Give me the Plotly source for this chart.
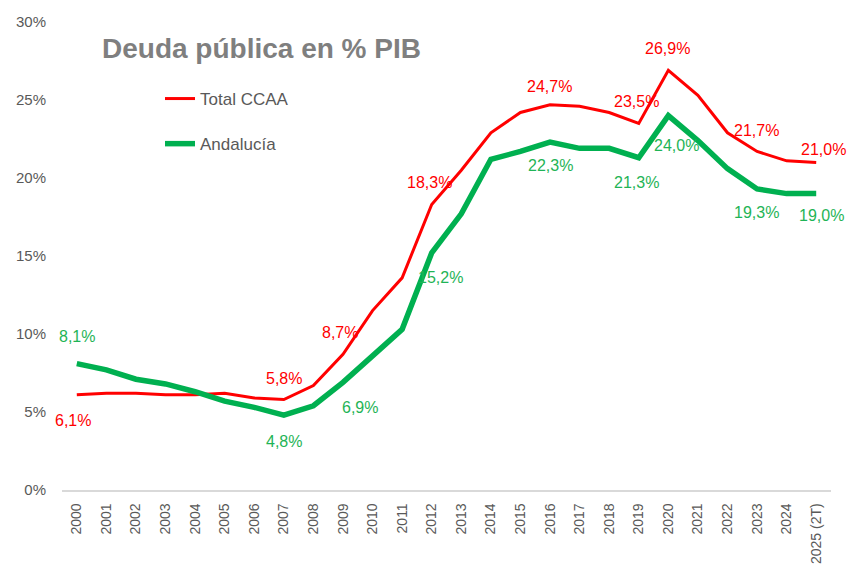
import plotly.graph_objects as go

years = ["2000", "2001", "2002", "2003", "2004", "2005", "2006", "2007", "2008", "2009",
         "2010", "2011", "2012", "2013", "2014", "2015", "2016", "2017", "2018", "2019",
         "2020", "2021", "2022", "2023", "2024", "2025 (2T)"]
total_ccaa = [6.1, 6.2, 6.2, 6.1, 6.1, 6.2, 5.9, 5.8, 6.7, 8.7,
              11.5, 13.6, 18.3, 20.5, 22.9, 24.2, 24.7, 24.6, 24.2, 23.5,
              26.9, 25.3, 22.9, 21.7, 21.1, 21.0]
andalucia = [8.1, 7.7, 7.1, 6.8, 6.3, 5.7, 5.3, 4.8, 5.4, 6.9,
             8.6, 10.3, 15.2, 17.7, 21.2, 21.7, 22.3, 21.9, 21.9, 21.3,
             24.0, 22.4, 20.6, 19.3, 19.0, 19.0]
y_ticks = [0, 5, 10, 15, 20, 25, 30]
y_tick_labels = ["0%", "5%", "10%", "15%", "20%", "25%", "30%"]

# indices of labelled points with (dx, dy) pixel offsets
red_labels = {0: (-4, 26), 7: (0, -21), 9: (-3, -22), 12: (-2, -22), 16: (-1, -18),
              19: (-2, -22), 20: (-1, -22), 23: (-1, -21), 25: (7, -13)}
green_labels = {0: (0, -27), 7: (0, 26), 9: (17, 25), 12: (9, 25), 16: (0, 23),
                19: (-2, 25), 20: (8, 30), 23: (-1, 24), 25: (5, 22)}

RED = "#FF0000"
GREEN = "#00B050"
GREEN_TXT = "#1FB456"
FONT = "Liberation Sans"

fig = go.Figure()
fig.add_trace(go.Scatter(x=years, y=total_ccaa, mode="lines", name="Total CCAA",
                         line=dict(color=RED, width=3), legendgroup="a"))
fig.add_trace(go.Scatter(x=years, y=andalucia, mode="lines", name="Andalucía",
                         line=dict(color=GREEN, width=5.5), legendgroup="b"))

def fmt(v):
    return f"{v:.1f}".replace(".", ",") + "%"

for i, (dx, dy) in red_labels.items():
    fig.add_annotation(x=i, y=total_ccaa[i], text=fmt(total_ccaa[i]), showarrow=False,
                       xshift=dx, yshift=-dy, font=dict(color=RED, size=16, family=FONT))
for i, (dx, dy) in green_labels.items():
    fig.add_annotation(x=i, y=andalucia[i], text=fmt(andalucia[i]), showarrow=False,
                       xshift=dx, yshift=-dy, font=dict(color=GREEN_TXT, size=16, family=FONT))

fig.add_annotation(xref="paper", yref="paper", x=(100 - 62) / 769, y=(490 - 48) / 468,
                   xanchor="left", yanchor="middle", showarrow=False,
                   text="<b>Deuda pública en % PIB</b>",
                   font=dict(color="#7F7F7F", size=28, family=FONT))

fig.update_layout(
    width=849, height=565,
    margin=dict(l=62, r=18, t=22, b=75),
    paper_bgcolor="white", plot_bgcolor="white",
    font=dict(family=FONT, color="#595959"),
    showlegend=True,
    legend=dict(x=(160 - 62) / 769, y=(490 - 81) / 468, xanchor="left", yanchor="top",
                font=dict(size=17, color="#595959", family=FONT),
                tracegroupgap=20, bgcolor="rgba(0,0,0,0)"),
    xaxis=dict(type="category", range=[-0.5, len(years) - 0.5], tickangle=-90,
               showgrid=False, showline=True, ticklabelstandoff=6,
               linecolor="#D9D9D9", linewidth=1.5, ticks="", automargin=False,
               tickfont=dict(size=14, color="#595959", family=FONT)),
    yaxis=dict(range=[0, 30], tickvals=y_ticks, ticktext=y_tick_labels, showgrid=False,
               zeroline=False, showline=False, automargin=False, ticklabelstandoff=15,
               tickfont=dict(size=15, color="#595959", family=FONT)),
)

fig.write_html("out.html", config={"displayModeBar": False},
               post_script="document.body.style.margin='0';document.body.style.overflow='hidden';")
